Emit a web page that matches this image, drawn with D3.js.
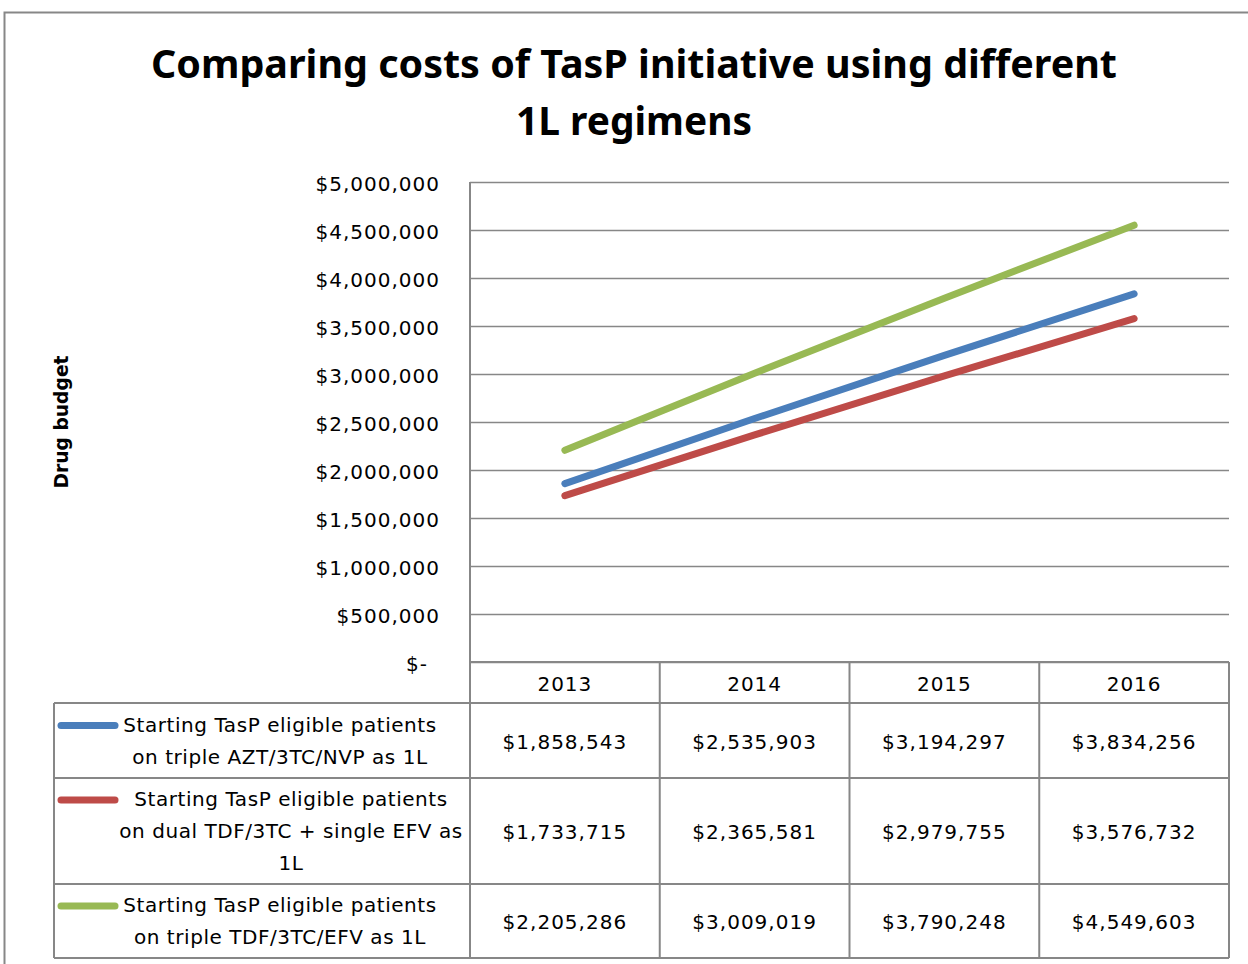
<!DOCTYPE html>
<html>
<head>
<meta charset="utf-8">
<script src="https://cdn.jsdelivr.net/npm/d3@7"></script>
<style>
  body { margin: 0; background: #fff; }
  svg { display: block; }
  text { font-family: "DejaVu Sans", sans-serif; fill: #000; }
  .body-text { font-size: 20px; letter-spacing: 1px; }
  .legend-text { font-size: 20px; letter-spacing: 0.55px; }
</style>
</head>
<body>
<div id="chart"></div>
<script>
// chart data
const years = ["2013", "2014", "2015", "2016"];
const seriesNames = [
  ["Starting TasP eligible patients", "on triple AZT/3TC/NVP as 1L"],
  ["Starting TasP eligible patients", "on dual TDF/3TC + single EFV as", "1L"],
  ["Starting TasP eligible patients", "on triple TDF/3TC/EFV as 1L"]
];
const azt = [1858543, 2535903, 3194297, 3834256];
const tdfDual = [1733715, 2365581, 2979755, 3576732];
const tdfTriple = [2205286, 3009019, 3790248, 4549603];
const yTicks = [0, 500000, 1000000, 1500000, 2000000, 2500000, 3000000, 3500000, 4000000, 4500000, 5000000];

const COLORS = ["#4a7ebb", "#be4b48", "#98b954"];
const series = [azt, tdfDual, tdfTriple].map((values, i) => ({
  name: seriesNames[i], values: values, color: COLORS[i]
}));

const W = 1248, H = 964;
const PLOT = { left: 470, right: 1229, top: 182, bottom: 662 };
const GRID = "#878787";

const svg = d3.select("#chart").append("svg")
  .attr("width", W).attr("height", H);

// outer chart border
svg.append("rect")
  .attr("x", 4.5).attr("y", 12.5)
  .attr("width", W + 10).attr("height", H)
  .attr("fill", "none").attr("stroke", GRID).attr("stroke-width", 2);

// title
const title = svg.append("text")
  .attr("text-anchor", "middle")
  .style("font-family", "'Noto Sans', sans-serif")
  .style("font-weight", "bold")
  .style("font-size", "40px");
title.append("tspan").attr("x", 634).attr("y", 78)
  .attr("textLength", 966).attr("lengthAdjust", "spacingAndGlyphs")
  .text("Comparing costs of TasP initiative using different");
title.append("tspan").attr("x", 634).attr("y", 135)
  .attr("textLength", 236).attr("lengthAdjust", "spacingAndGlyphs")
  .text("1L regimens");

// y label
svg.append("text")
  .attr("transform", "translate(68,422) rotate(-90)")
  .attr("text-anchor", "middle")
  .style("font-weight", "bold")
  .style("font-size", "19px")
  .attr("textLength", 133).attr("lengthAdjust", "spacingAndGlyphs")
  .text("Drug budget");

// scales
const x = d3.scaleBand().domain(years).range([PLOT.left, PLOT.right]);
const y = d3.scaleLinear().domain([0, 5000000]).range([PLOT.bottom, PLOT.top]);

// gridlines
svg.append("g")
  .attr("class", "grid")
  .attr("transform", `translate(${PLOT.left},0)`)
  .call(d3.axisLeft(y).tickValues(yTicks).tickSize(-(PLOT.right - PLOT.left)).tickFormat(""))
  .call(g => g.select(".domain").remove())
  .call(g => g.selectAll("line").attr("stroke", GRID).attr("stroke-width", 1.6));

// y tick labels
const fmt = d3.format(",");
svg.append("g")
  .attr("transform", `translate(${PLOT.left},2)`)
  .call(d3.axisLeft(y).tickValues(yTicks).tickSize(0).tickPadding(30)
    .tickFormat(d => d === 0 ? "$-" : "$" + fmt(d)))
  .call(g => g.select(".domain").remove())
  .call(g => g.selectAll("text")
    .attr("class", "body-text")
    .style("font-family", "'DejaVu Sans', sans-serif")
    .attr("font-size", null)
    .attr("fill", "#000")
    .attr("dx", d => d === 0 ? -12 : 0));

// left axis line
svg.append("line")
  .attr("x1", PLOT.left).attr("x2", PLOT.left)
  .attr("y1", PLOT.top).attr("y2", 958)
  .attr("stroke", GRID).attr("stroke-width", 2);

// series lines
const line = d3.line()
  .x((d, i) => x(years[i]) + x.bandwidth() / 2)
  .y(d => y(d));

svg.selectAll(".series")
  .data(series)
  .enter()
  .append("path")
  .attr("class", "series")
  .attr("d", d => line(d.values))
  .attr("fill", "none")
  .attr("stroke", d => d.color)
  .attr("stroke-width", 7)
  .attr("stroke-linecap", "round");

// data table
const TABLE_LEFT = 54;
const rowEdges = [662, 703, 778, 884, 958];

const table = svg.append("g").attr("class", "data-table");

// horizontal lines
rowEdges.forEach((ry, i) => {
  table.append("line")
    .attr("x1", i === 0 ? PLOT.left : TABLE_LEFT).attr("x2", PLOT.right)
    .attr("y1", ry).attr("y2", ry)
    .attr("stroke", GRID).attr("stroke-width", 2);
});

// vertical lines
table.append("line")
  .attr("x1", TABLE_LEFT).attr("x2", TABLE_LEFT)
  .attr("y1", rowEdges[1]).attr("y2", rowEdges[4])
  .attr("stroke", GRID).attr("stroke-width", 2);
years.forEach(yr => {
  const xr = x(yr) + x.bandwidth();
  table.append("line")
    .attr("x1", xr).attr("x2", xr)
    .attr("y1", rowEdges[0]).attr("y2", rowEdges[4])
    .attr("stroke", GRID).attr("stroke-width", 2);
});

// header years
table.selectAll(".year")
  .data(years)
  .enter()
  .append("text")
  .attr("class", "year body-text")
  .attr("x", d => x(d) + x.bandwidth() / 2)
  .attr("y", 691)
  .attr("text-anchor", "middle")
  .text(d => d);

// rows
series.forEach((s, r) => {
  const top = rowEdges[r + 1], bottom = rowEdges[r + 2];
  const mid = (top + bottom) / 2;
  const n = s.name.length;
  const firstBase = mid - (n - 1) * 32 / 2 + 7;

  // legend key
  table.append("line")
    .attr("x1", 61).attr("x2", 115)
    .attr("y1", firstBase - 6).attr("y2", firstBase - 6)
    .attr("stroke", s.color).attr("stroke-width", 7)
    .attr("stroke-linecap", "round");

  const label = table.append("text")
    .attr("class", "legend-text")
    .attr("text-anchor", "middle");
  s.name.forEach((ln, k) => {
    label.append("tspan")
      .attr("x", r === 1 ? 291 : 280)
      .attr("y", firstBase + k * 32)
      .text(ln);
  });

  table.selectAll(".val" + r)
    .data(s.values)
    .enter()
    .append("text")
    .attr("class", "body-text")
    .attr("x", (d, i) => x(years[i]) + x.bandwidth() / 2)
    .attr("y", mid + 8)
    .attr("text-anchor", "middle")
    .text(d => "$" + fmt(d));
});
</script>
</body>
</html>
